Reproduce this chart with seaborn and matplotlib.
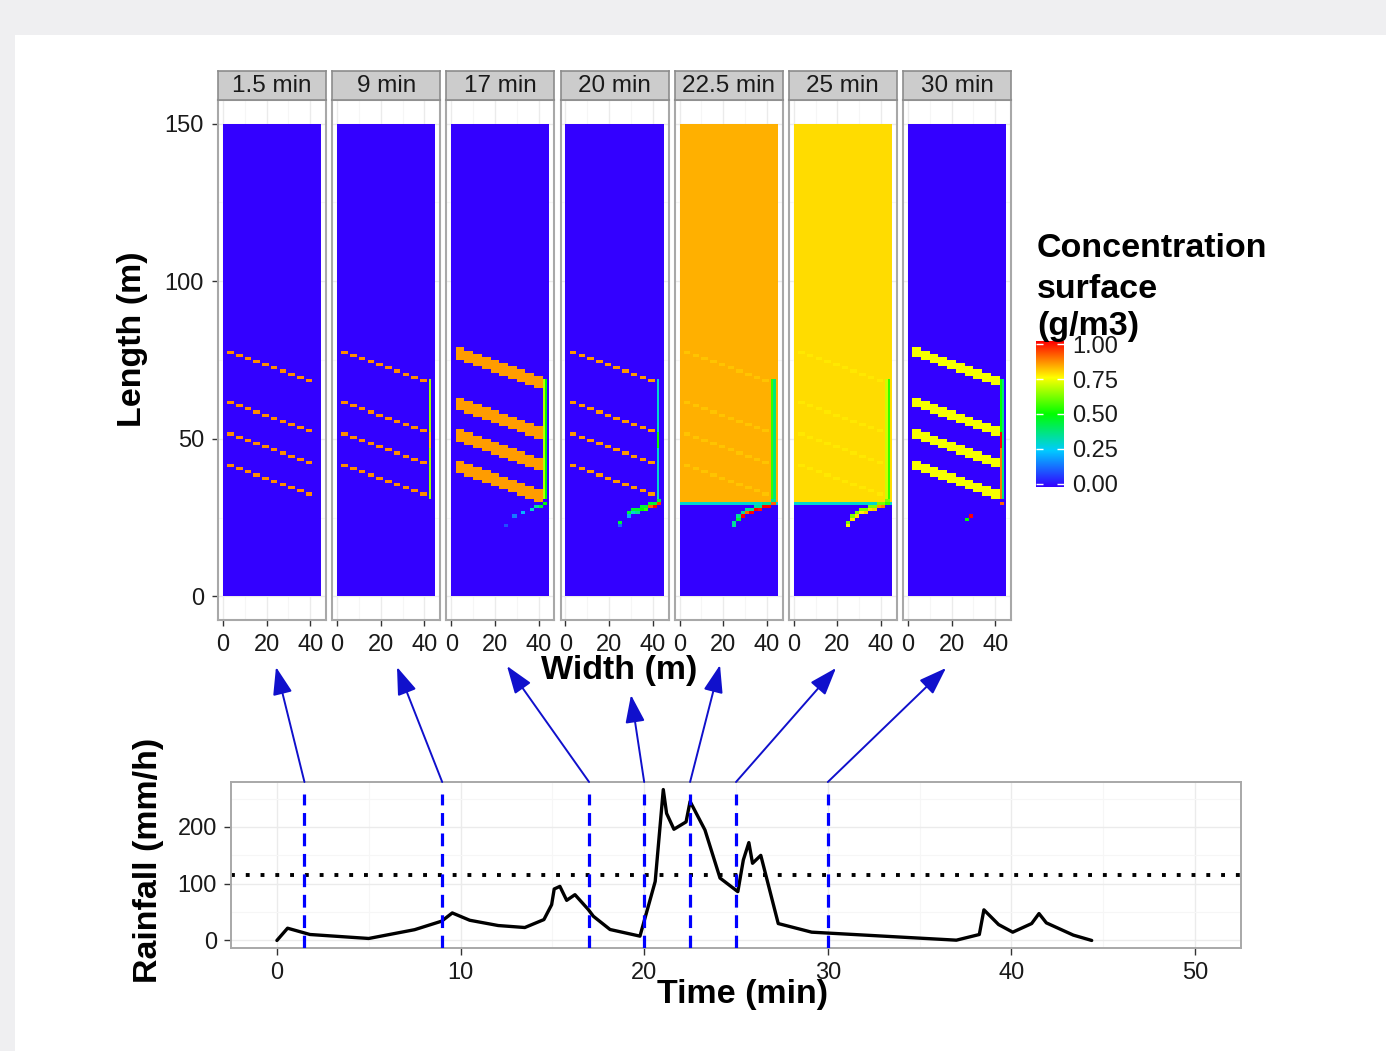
import numpy as np
import pandas as pd
import matplotlib
matplotlib.use("Agg")
import matplotlib.pyplot as plt
import seaborn as sns
from matplotlib.colors import LinearSegmentedColormap
from matplotlib.patches import Rectangle, ConnectionPatch

W, H = 1386, 1051

# --- rainfall hyetograph ---
rain_time = [0, 0.58, 1.8, 5.0, 7.5, 8.97, 9.55, 10.5, 12.05, 13.5, 14.54, 14.96,
             15.1, 15.41, 15.78, 16.23, 16.96, 17.23, 18.14, 19.77, 20.6, 21.04,
             21.22, 21.62, 22.28, 22.5, 23.31, 24.13, 25.1, 25.4, 25.7, 25.9,
             26.35, 27.3, 29.12, 37.0, 38.25, 38.5, 39.3, 40.07, 41.1, 41.5,
             41.9, 43.37, 44.37]
rain_mmh = [0, 21.6, 10.5, 3.5, 19, 34, 48.5, 35.6, 26.3, 22.8, 36.8, 63,
            90.7, 95.3, 70.7, 80.7, 54.4, 42.7, 19.3, 7.6, 104, 266,
            224, 196, 209, 245, 194.7, 110, 86, 142, 172.5, 136,
            150, 29.8, 14.6, 0.5, 10.5, 54, 28, 14.6, 29.8, 47.4,
            31, 9.4, 0]
threshold = 115
snapshot_time = [1.5, 9, 17, 20, 22.5, 25, 30]
panel_labels = ["1.5 min", "9 min", "17 min", "20 min", "22.5 min", "25 min", "30 min"]

# --- surface concentration fields (45 m x 150 m, 1 m cells) ---
NX, NY = 45, 150
STRIPE_TOP = [77, 61, 51, 41]        # row of each furrow at its upslope end
STRIPE_X0, STRIPE_STEP_X, STRIPE_STEPS = 2, 4, 10
FRONT_ROW = 30
WALL_COL = 42
fill_value = [0, 0, 0, 0, 0.825, 0.785, 0]
front_edge = [0, 0, 0, 0, 0.30, 0.30, 0]
stripe_value = [0.86, 0.86, 0.845, 0.85, 0.805, 0.77, 0.74]
stripe_rows = [1, 1, 4, 1, 1, 1, 3]
wall_inner = [[0, 0, 0], [0.65, 0.8, 0.65], [0.68, 0.68, 0.68], [0.3, 0.5, 0.3],
              [0.55, 0.55, 0.55], [0.7, 0.7, 0.7], [0.5, 1.0, 0.88]]
wall_outer = [0, 0, 0.5, 0, 0.38, 0.55, 0.38]
TAIL_X = [42, 40, 38, 36, 34, 32, 30, 28, 26, 24]
TAIL_Y = [29, 28, 28, 27, 27, 26, 26, 25, 24, 22]
tail_value = [[0] * 10,
              [0] * 10,
              [0.5, 0.45, 0.35, 0.3, 0, 0.22, 0, 0.15, 0, 0.1],
              [0.95, 1.0, 0.9, 0.55, 0.5, 0.35, 0.3, 0.2, 0, 0.12],
              [0.9, 1.0, 1.0, 0.98, 1.0, 1.0, 0.9, 1.0, 0.45, 0.35],
              [0.55, 0.88, 0.85, 0.8, 0.78, 0.8, 0.76, 0.78, 0.77, 0.76],
              [0.9, 0, 0, 0, 0, 0, 0, 1.0, 0.5, 0]]
tail_top = [0, 0, 0, 0.45, 0.35, 0.62, 0]

# arrow tips (figure pixels) pointing at each snapshot panel
arrow_tips = [(276, 667), (397, 667), (507, 666), (631, 695), (720, 665), (836, 668), (946, 668)]


def build_field(k):
    z = np.zeros((NY, NX))
    if fill_value[k] > 0:
        z[FRONT_ROW:, :] = fill_value[k]
        z[FRONT_ROW - 1, :] = front_edge[k]
    for y0 in STRIPE_TOP:
        for step in range(STRIPE_STEPS):
            x0 = STRIPE_X0 + STRIPE_STEP_X * step
            lo = y0 - step - stripe_rows[k] // 2
            width = 3 if stripe_rows[k] == 1 else 4
            z[lo:lo + stripe_rows[k], x0:x0 + width] = stripe_value[k]
    for (r0, r1), v in zip([(52, 69), (47, 52), (31, 47)], wall_inner[k]):
        if v > 0:
            z[r0:r1, WALL_COL] = v
    if wall_outer[k] > 0:
        z[31:69, WALL_COL + 1] = wall_outer[k]
    for x, y, v in zip(TAIL_X, TAIL_Y, tail_value[k]):
        if v > 0:
            z[y, x:x + 2] = v
            if tail_top[k] > 0:
                z[y + 1, x:x + 2] = tail_top[k]
    return z


cmap = LinearSegmentedColormap.from_list(
    "conc", [(0, "#3300FF"), (0.25, "#00CCFF"), (0.5, "#00FF00"), (0.75, "#FFFF00"), (1, "#FF0000")])

sns.set_theme(style="white")
plt.rcParams["font.family"] = ["Liberation Sans", "DejaVu Sans"]
plt.rcParams["text.color"] = "black"
TXT = "#1a1a1a"

fig = plt.figure(figsize=(W / 100, H / 100), dpi=100, facecolor="#efeff1")
fig.add_artist(Rectangle((15 / W, 0), 1 - 15 / W, 1 - 35 / H, transform=fig.transFigure,
                         facecolor="white", edgecolor="none", zorder=-10))


def add_ax(x0, y0, x1, y1):
    return fig.add_axes([x0 / W, 1 - y1 / H, (x1 - x0) / W, (y1 - y0) / H])


# --- top: facet panels ---
for k in range(7):
    left = 218 + k * 114.17
    ax = add_ax(left, 100, left + 108, 620)
    sns.heatmap(build_field(k), ax=ax, cmap=cmap, vmin=0, vmax=1, cbar=False,
                xticklabels=False, yticklabels=False)
    ax.set_xlim(-2.25, 47.25)
    ax.set_ylim(-7.5, 157.5)
    for s in ax.spines.values():
        s.set_visible(True)
        s.set_color("#a8a8a8")
        s.set_linewidth(1.5)
    ax.set_xticks([0, 20, 40])
    ax.set_xticklabels(["0", "20", "40"])
    ax.set_xticks([10, 30], minor=True)
    ax.set_yticks([0, 50, 100, 150])
    ax.set_yticks([25, 75, 125], minor=True)
    if k == 0:
        ax.set_yticklabels(["0", "50", "100", "150"])
        ax.tick_params(axis="y", left=True)
    else:
        ax.set_yticklabels([])
        ax.tick_params(axis="y", left=False)
    ax.set_axisbelow(True)
    ax.grid(True, which="major", color="#ebebeb", lw=1)
    ax.grid(True, which="minor", color="#f6f6f6", lw=0.8)
    ax.tick_params(which="minor", length=0)
    ax.tick_params(axis="x", bottom=True)
    ax.tick_params(which="major", length=4, width=1, color="#333333",
                   labelsize=17, labelcolor=TXT, pad=6)
    ax.set_xlabel("")
    ax.set_ylabel("")

    strip = add_ax(left, 71, left + 108, 100)
    strip.set_facecolor("#cccccc")
    strip.set_xticks([])
    strip.set_yticks([])
    for s in strip.spines.values():
        s.set_color("#8c8c8c")
        s.set_linewidth(1.2)
    strip.text(0.5, 0.47, panel_labels[k], ha="center", va="center",
               fontsize=17.5, color=TXT, transform=strip.transAxes)

# --- colour bar legend ---
cax = add_ax(1036, 341, 1064, 487)
grad = np.linspace(0, 1, 256)[:, None]
cax.imshow(grad, aspect="auto", cmap=cmap, origin="lower", extent=(0, 1, -0.022, 1.022))
cax.set_xlim(0, 1)
cax.set_ylim(-0.022, 1.022)
cax.set_xticks([])
cax.set_yticks([0, 0.25, 0.5, 0.75, 1])
cax.set_yticklabels(["0.00", "0.25", "0.50", "0.75", "1.00"])
cax.tick_params(axis="y", left=True, right=True, direction="in", length=5, width=1,
                color="white", labelleft=False, labelright=True, labelsize=17,
                labelcolor=TXT, pad=6)
for s in cax.spines.values():
    s.set_visible(False)
for txt, yb in zip(["Concentration", "surface", "(g/m3)"], [257, 298, 335]):
    fig.text(1037 / W, 1 - yb / H, txt, ha="left", va="baseline",
             fontsize=24.5, fontweight="bold", color="black")

# --- bottom: rainfall ---
axr = add_ax(231, 782, 1241, 948)
df = pd.DataFrame({"time": rain_time, "rain": rain_mmh})
sns.lineplot(data=df, x="time", y="rain", ax=axr, color="black", lw=2.4, zorder=2)
axr.axhline(threshold, color="black", lw=2.8, dashes=(1, 2.8), zorder=2.5)
for t in snapshot_time:
    axr.axvline(t, ymax=0.93, color="#0000ff", lw=2.3, dashes=(4, 2.4), zorder=3)
rng = max(rain_mmh) - min(rain_mmh)
axr.set_xlim(-2.5, 52.5)
axr.set_ylim(min(rain_mmh) - 0.05 * rng, max(rain_mmh) + 0.05 * rng)
axr.set_xticks(range(0, 51, 10))
axr.set_xticks(range(5, 50, 10), minor=True)
axr.set_yticks([0, 100, 200])
axr.set_yticks([50, 150, 250], minor=True)
axr.set_axisbelow(True)
axr.grid(True, which="major", color="#ebebeb", lw=1)
axr.grid(True, which="minor", color="#f6f6f6", lw=0.8)
axr.tick_params(which="minor", length=0)
axr.tick_params(which="major", bottom=True, left=True, length=5, width=1,
                color="#333333", labelsize=17, labelcolor=TXT, pad=5)
for s in axr.spines.values():
    s.set_color("#a8a8a8")
    s.set_linewidth(1.4)
axr.set_xlabel("")
axr.set_ylabel("")

# axis titles
fig.text(133 / W, 1 - 339 / H, "Length (m)", rotation=90, ha="center", va="center",
         fontsize=24.5, fontweight="bold", color="black")
fig.text(619 / W, 1 - 671 / H, "Width (m)", ha="center", va="center",
         fontsize=24.5, fontweight="bold", color="black")
fig.text(149 / W, 1 - 860 / H, "Rainfall (mm/h)", rotation=90, ha="center", va="center",
         fontsize=24.5, fontweight="bold", color="black")
fig.text(743 / W, 1 - 995 / H, "Time (min)", ha="center", va="center",
         fontsize=24.5, fontweight="bold", color="black")

# arrows linking snapshot times to panels
ytop = axr.get_ylim()[1]
for t, (xp, yp) in zip(snapshot_time, arrow_tips):
    con = ConnectionPatch(xyA=(t, ytop), coordsA=axr.transData,
                          xyB=(xp / W, 1 - yp / H), coordsB=fig.transFigure,
                          arrowstyle="-|>,head_length=1.7,head_width=0.6",
                          mutation_scale=10, color="#1010cc", lw=1.4,
                          annotation_clip=False)
    fig.add_artist(con)

fig.savefig("out.png", dpi=100, facecolor=fig.get_facecolor())
